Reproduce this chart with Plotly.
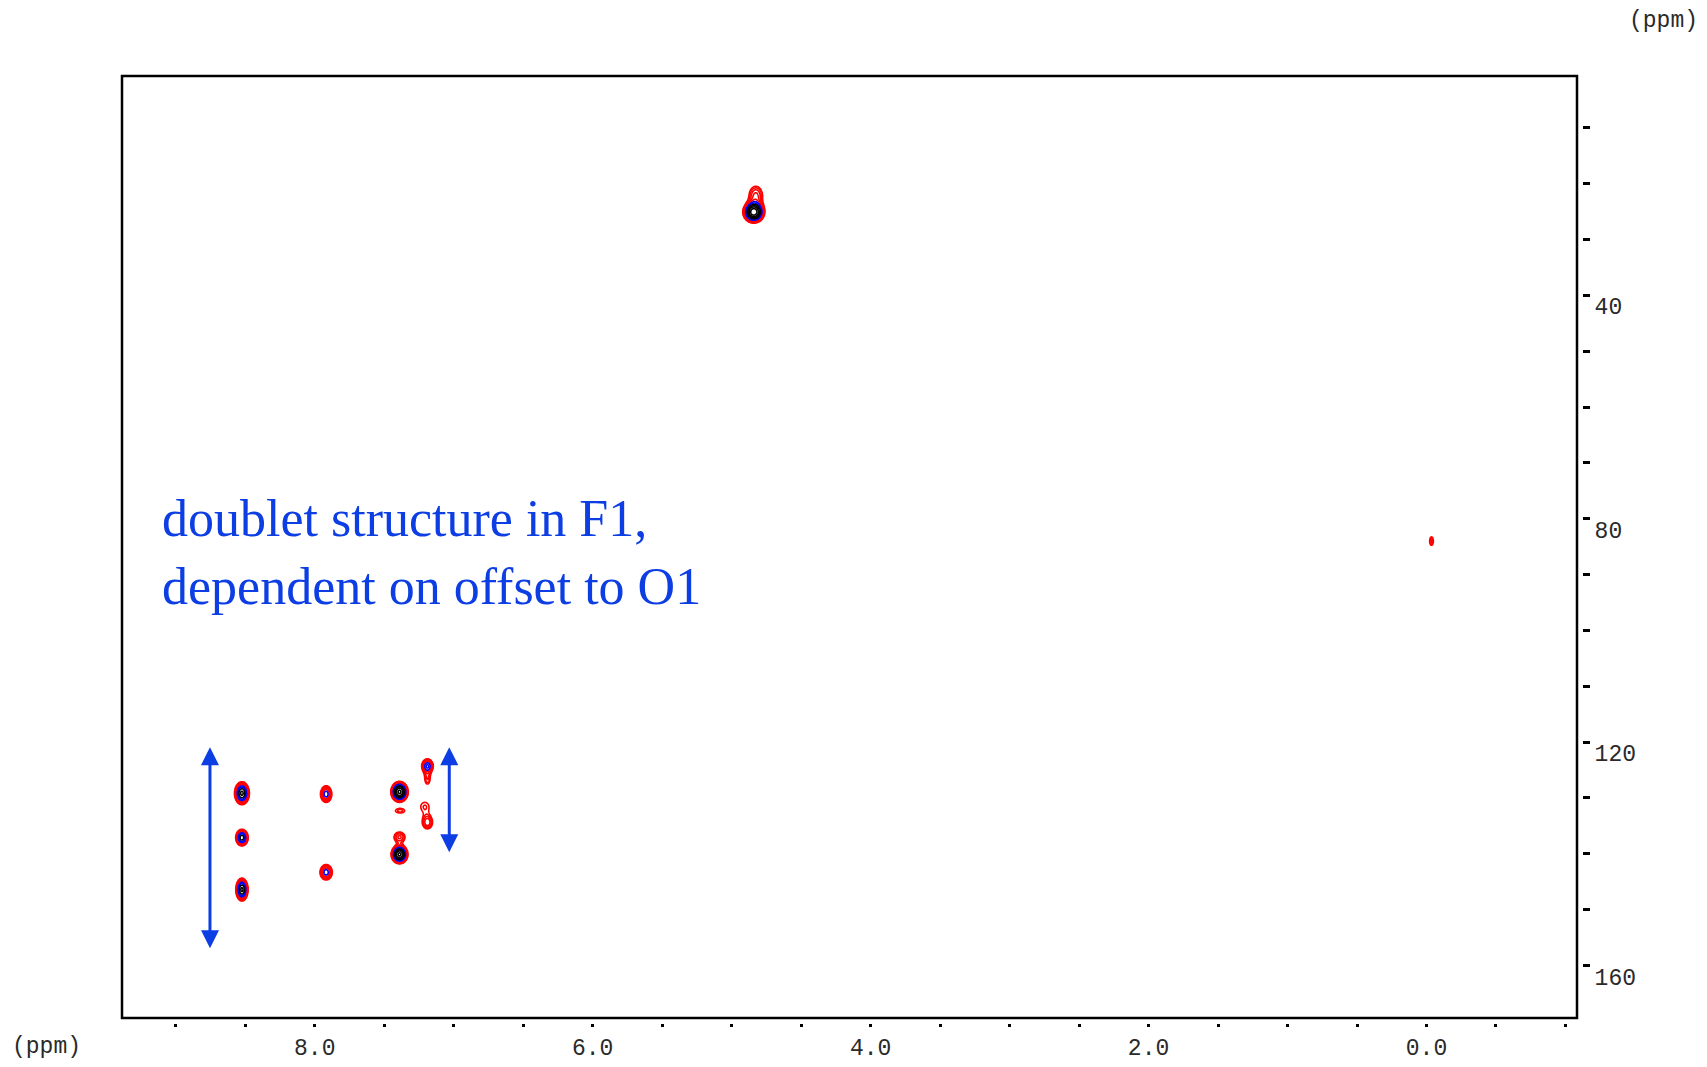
import numpy as np
import plotly.graph_objects as go

# ---------------- data ----------------
# cross peaks: F2 (1H, ppm), F1 (13C, ppm), relative intensity, widths (ppm)
peak_f2 = [8.524, 8.524, 8.524, 7.918, 7.918, 7.390, 7.390, 7.386, 7.390,
           7.189, 7.189, 7.208, 7.189, 4.841, 4.826, -0.036]
peak_f1 = [129.15, 137.1, 146.4, 129.3, 143.3, 128.9, 140.1, 132.3, 137.0,
           124.25, 126.6, 131.55, 134.4, 25.1, 22.1, 84.0]
peak_int = [4.5, 4.0, 4.5, 2.8, 2.8, 6.5, 6.5, 1.3, 1.8,
            3.0, 1.4, 1.22, 2.0, 7.0, 1.8, 1.5]
peak_wf2 = [0.0311, 0.0272, 0.0257, 0.0286, 0.031, 0.0327, 0.0316, 0.0446, 0.0365,
            0.028, 0.022, 0.045, 0.0306, 0.040, 0.044, 0.0148]
peak_wf1 = [1.19, 0.90, 1.19, 1.04, 0.97, 0.97, 0.88, 0.54, 0.83,
            0.85, 1.1, 1.2, 0.96, 1.0, 1.5, 0.84]

# doublet-span arrows (F2 ppm, F1 start, F1 end)
arrow_f2 = [8.754, 7.032]
arrow_f1_top = [120.9, 120.9]
arrow_f1_bottom = [157.2, 140.0]

annotation_text = "doublet structure in F1,<br>dependent on offset to O1"

x_tick_vals = [-1.0, -0.5, 0.0, 0.5, 1.0, 1.5, 2.0, 2.5, 3.0, 3.5, 4.0, 4.5,
               5.0, 5.5, 6.0, 6.5, 7.0, 7.5, 8.0, 8.5, 9.0]
x_tick_text = ["", "", "0.0", "", "", "", "2.0", "", "", "", "4.0", "",
               "", "", "6.0", "", "", "", "8.0", "", ""]
y_tick_vals = [10, 20, 30, 40, 50, 60, 70, 80, 90, 100, 110, 120, 130, 140, 150, 160]
y_tick_text = ["", "", "", "40", "", "", "", "80", "", "", "", "120", "", "", "", "160"]

# ---------------- rendering parameters ----------------
regions = [(8.30, 8.75, 117, 156), (7.70, 8.15, 117, 156), (6.98, 7.65, 115, 152),
           (4.55, 5.12, 13, 35), (-0.15, 0.08, 78, 90)]
step = np.log(1.2)
RED, BLUE, BLACK = "#ff0000", "#0000ff", "#000000"
TEXT_BLUE = "rgb(12,62,228)"
MONO = "Liberation Mono"
TICK_COLOR = "#2a2a2a"

fig = go.Figure()

for (x0, x1, y0, y1) in regions:
    xs = np.arange(x0, x1, 0.003)
    ys = np.arange(y0, y1, 0.1)
    X, Y = np.meshgrid(xs, ys)
    S = np.zeros_like(X)
    for f2, f1, a, w2, w1 in zip(peak_f2, peak_f1, peak_int, peak_wf2, peak_wf1):
        S += a * np.exp(-((X - f2) ** 2) / (2 * w2 ** 2) - ((Y - f1) ** 2) / (2 * w1 ** 2))
    Z = np.log(S + 1e-9)
    for color, lo, hi in [(RED, 0, 4), (BLUE, 5, 6), (BLACK, 7, 10)]:
        fig.add_trace(go.Contour(
            x=xs, y=ys, z=Z, autocontour=False,
            contours=dict(start=lo * step, end=hi * step + 1e-6, size=step, coloring="lines"),
            colorscale=[[0, color], [1, color]], showscale=False,
            line=dict(width=1.6), hoverinfo="skip"))

# nominal page size; the figure itself is autosized to the browser viewport
W, H = 1707, 1067
ml, mt = 122, 76
mr = W - 1582
mb = H - 1023
pw, ph = W - ml - mr, H - mt - mb

fig.update_layout(
    autosize=True,
    margin=dict(l=ml, r=mr, t=mt, b=mb, pad=0, autoexpand=False),
    plot_bgcolor="white", paper_bgcolor="white", showlegend=False,
    xaxis=dict(range=[9.387, -1.083], domain=[0, (pw - 5) / pw], anchor="free", position=0,
               automargin=False,
               showgrid=False, zeroline=False, showline=False,
               ticks="outside", ticklen=3, tickwidth=3, tickcolor="black",
               tickmode="array", tickvals=x_tick_vals, ticktext=x_tick_text,
               tickfont=dict(family=MONO, size=23, color=TICK_COLOR)),
    yaxis=dict(range=[169.4, 0.72], domain=[5 / ph, 1], anchor="free", position=1, side="right",
               automargin=False,
               showgrid=False, zeroline=False, showline=False,
               ticks="outside", ticklen=7, tickwidth=3, tickcolor="black",
               tickmode="array", tickvals=y_tick_vals, ticktext=y_tick_text,
               ticklabelshift=-11,
               tickfont=dict(family=MONO, size=23, color=TICK_COLOR)),
)

fig.add_shape(type="rect", xref="x domain", yref="y domain", x0=0, x1=1, y0=0, y1=1,
              line=dict(color="black", width=2.5), layer="above")

for xa, yt, yb in zip(arrow_f2, arrow_f1_top, arrow_f1_bottom):
    fig.add_annotation(x=xa, y=yt, ax=xa, ay=yb, xref="x", yref="y", axref="x", ayref="y",
                       text="", showarrow=True, arrowside="end+start",
                       arrowhead=2, startarrowhead=2, arrowsize=1.2, startarrowsize=1.2,
                       arrowwidth=3, arrowcolor=TEXT_BLUE, standoff=0, startstandoff=0)

fig.add_annotation(x=9.115, y=86.0, xref="x", yref="y", text=annotation_text, showarrow=False,
                   xanchor="left", yanchor="middle", align="left",
                   font=dict(family="Liberation Serif", size=52, color=TEXT_BLUE))


def px_to_paper(sx, sy):
    return (sx - ml) / pw, (H - sy - mb) / ph


# "(ppm)" unit labels
for sx, sy in [(1663, 21), (46, 1047)]:
    px, py = px_to_paper(sx, sy)
    fig.add_annotation(x=px, y=py, xref="paper", yref="paper",
                       text="(ppm)", showarrow=False, xanchor="center", yanchor="middle",
                       font=dict(family=MONO, size=23, color=TICK_COLOR))

# page = figure = viewport: no body margin, no stray whitespace, no scrolling
page_fix = (
    "var st=function(e){e.style.margin='0';e.style.padding='0';e.style.overflow='hidden';};"
    "st(document.documentElement);st(document.body);"
    "var d=document.getElementById('{plot_id}');var p=d.parentElement;"
    "p.style.lineHeight='0';p.style.fontSize='0';"
    "[p,document.body].forEach(function(e){Array.from(e.childNodes).forEach("
    "function(n){if(n.nodeType===3){n.remove();}});});"
    "Plotly.Plots.resize(d);"
)

fig.write_html("out.html", post_script=page_fix, default_width="100vw", default_height="100vh",
               config={"displayModeBar": False, "responsive": True})
